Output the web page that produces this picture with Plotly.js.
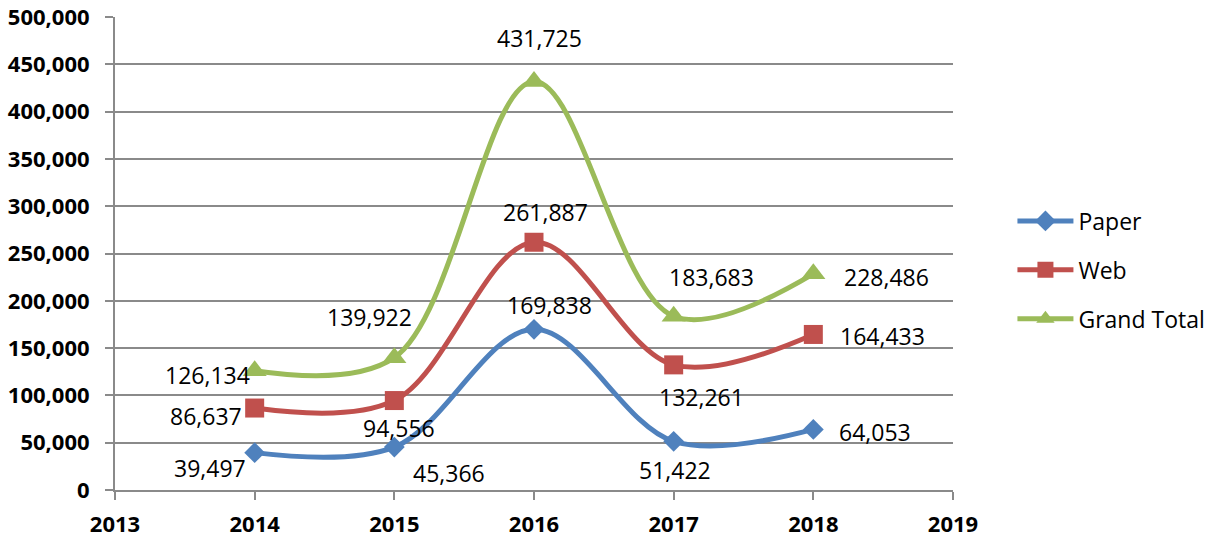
<!DOCTYPE html>
<html>
<head>
<meta charset="utf-8">
<script src="https://cdn.plot.ly/plotly-3.0.1.min.js"></script>
<style>
  html, body { margin: 0; padding: 0; background: #ffffff; }
  #chart { width: 1206px; height: 540px; }
</style>
</head>
<body>
<div id="chart"></div>
<script>
// ---- Data ----
const years = [2014, 2015, 2016, 2017, 2018];
const paper = [39497, 45366, 169838, 51422, 64053];
const web = [86637, 94556, 261887, 132261, 164433];
const grandTotal = [126134, 139922, 431725, 183683, 228486];
const seriesNames = ["Paper", "Web", "Grand Total"];

// ---- Styles ----
const colors = ["#4F81BD", "#C0504D", "#9BBB59"];
const symbols = ["diamond", "square", "triangle-up"];
const markerSizes = [16, 19, 21];
// label offsets in pixels (xshift, yshift) per point
const paperShift = [[-45, -15], [55, -26], [15, 24], [1, -29], [62, -3]];
const webShift = [[-49, -8], [5, -27], [11, 30], [28, -32], [69, -2]];
const totalShift = [[-47, -4], [-25, 41], [5, 44], [38, 39], [73, -3]];

const allSeries = [paper, web, grandTotal];
const allShifts = [paperShift, webShift, totalShift];

const traces = allSeries.map((vals, i) => ({
  type: "scatter",
  mode: "lines+markers",
  name: seriesNames[i],
  legendgroup: "g" + i,
  x: years,
  y: vals,
  line: { color: colors[i], width: 5, shape: "spline", smoothing: 1 },
  marker: { symbol: symbols[i], size: markerSizes[i], color: colors[i], line: { width: 0 } },
  cliponaxis: false,
  hoverinfo: "skip"
}));

const fmt = v => v.toLocaleString("en-US");
const annotations = [];
allSeries.forEach((vals, i) => {
  vals.forEach((v, j) => {
    annotations.push({
      x: years[j], y: v, xref: "x", yref: "y",
      text: fmt(v), showarrow: false,
      xshift: allShifts[i][j][0], yshift: allShifts[i][j][1],
      font: { family: "Open Sans", size: 23, color: "#000000" }
    });
  });
});

const gridColor = "#8A8A8A";
const layout = {
  width: 1206, height: 540,
  margin: { l: 115, r: 253, t: 17, b: 50 },
  paper_bgcolor: "#ffffff", plot_bgcolor: "#ffffff",
  showlegend: true,
  legend: {
    xref: "container", yref: "container",
    x: 0.8395, xanchor: "left", y: 0.5, yanchor: "middle",
    font: { family: "Open Sans", size: 23, color: "#000000" },
    tracegroupgap: 16, traceorder: "grouped", itemwidth: 56,
    bgcolor: "rgba(0,0,0,0)"
  },
  xaxis: {
    range: [2013, 2019], dtick: 1, tick0: 2013, tickformat: "d",
    showgrid: false, zeroline: false,
    showline: true, linecolor: gridColor, linewidth: 2,
    ticks: "outside", ticklen: 8, tickwidth: 2, tickcolor: gridColor,
    ticklabelstandoff: 6,
    tickfont: { family: "Open Sans", size: 22, color: "#000000", weight: "bold" }
  },
  yaxis: {
    range: [0, 500000], dtick: 50000, tickformat: ",d",
    showgrid: true, gridcolor: gridColor, gridwidth: 2,
    zeroline: false,
    showline: true, linecolor: gridColor, linewidth: 2,
    ticks: "outside", ticklen: 8, tickwidth: 2, tickcolor: gridColor,
    ticklabelstandoff: 11,
    tickfont: { family: "Open Sans", size: 22, color: "#000000", weight: "bold" }
  },
  annotations: annotations
};

Plotly.newPlot("chart", traces, layout, { staticPlot: true, displayModeBar: false });
</script>
</body>
</html>
